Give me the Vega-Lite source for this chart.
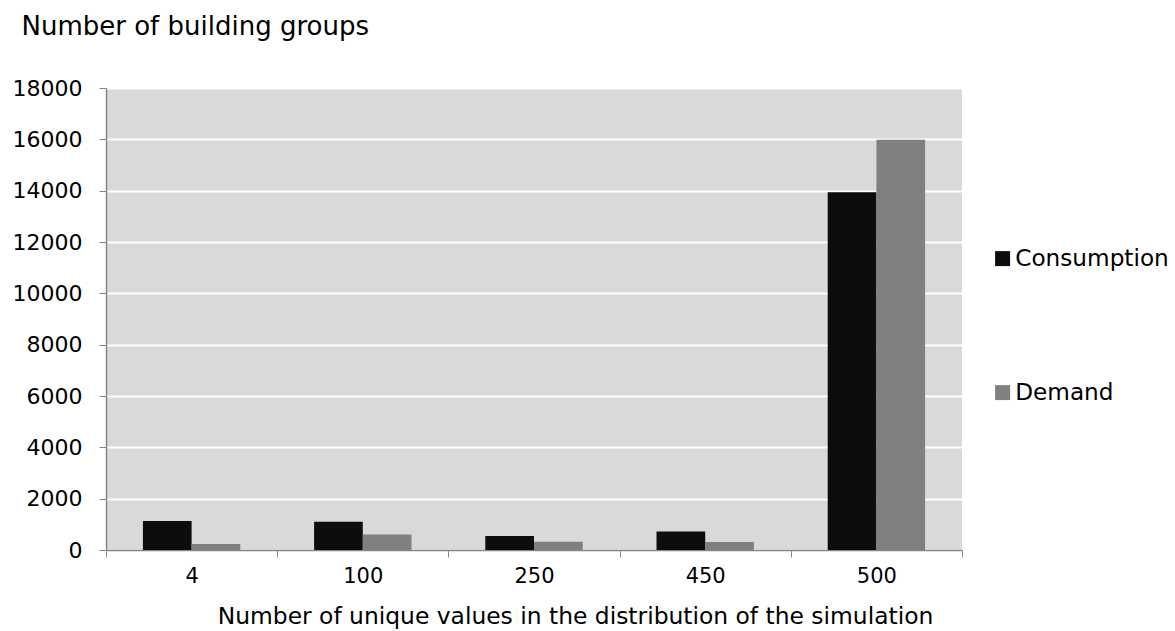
{
  "$schema": "https://vega.github.io/schema/vega-lite/v6.json",
  "autosize": "none",
  "padding": {"left": 106, "top": 88, "right": 213, "bottom": 81},
  "width": 856,
  "height": 462,
  "background": "white",
  "config": {
    "font": "DejaVu Sans",
    "view": {"fill": "#d9d9d9", "stroke": null}
  },
  "data": {
    "values": [
      {"unique": "4", "series": "Consumption", "groups": 1130},
      {"unique": "4", "series": "Demand", "groups": 235},
      {"unique": "100", "series": "Consumption", "groups": 1105},
      {"unique": "100", "series": "Demand", "groups": 600},
      {"unique": "250", "series": "Consumption", "groups": 545},
      {"unique": "250", "series": "Demand", "groups": 325},
      {"unique": "450", "series": "Consumption", "groups": 725},
      {"unique": "450", "series": "Demand", "groups": 310},
      {"unique": "500", "series": "Consumption", "groups": 13940},
      {"unique": "500", "series": "Demand", "groups": 15980}
    ]
  },
  "mark": {"type": "bar"},
  "encoding": {
    "x": {
      "field": "unique",
      "type": "nominal",
      "sort": ["4", "100", "250", "450", "500"],
      "scale": {"paddingInner": 0, "paddingOuter": 0},
      "axis": {
        "title": "Number of unique values in the distribution of the simulation",
        "titleFontSize": 23.4,
        "titleFontWeight": "normal",
        "titleColor": "black",
        "titleX": 469,
        "titleAlign": "center",
        "titlePadding": 19,
        "labelAngle": 0,
        "labelFontSize": 21,
        "labelColor": "black",
        "labelPadding": 8,
        "tickBand": "extent",
        "tickSize": 7,
        "tickColor": "#868686",
        "domainColor": "#868686",
        "domainWidth": 1.5,
        "grid": false
      }
    },
    "xOffset": {
      "field": "series",
      "type": "nominal",
      "scale": {"paddingInner": 0, "paddingOuter": 0.758}
    },
    "y": {
      "field": "groups",
      "type": "quantitative",
      "scale": {"domain": [0, 18000], "nice": false},
      "axis": {
        "title": "Number of building groups",
        "titleAngle": 0,
        "titleAlign": "left",
        "titleBaseline": "middle",
        "titleX": -85,
        "titleY": -62,
        "titleFontSize": 26,
        "titleFontWeight": "normal",
        "titleColor": "black",
        "values": [0, 2000, 4000, 6000, 8000, 10000, 12000, 14000, 16000, 18000],
        "format": "d",
        "labelFontSize": 22,
        "labelColor": "black",
        "labelPadding": 17,
        "tickSize": 7,
        "tickColor": "#868686",
        "domainColor": "#868686",
        "domainWidth": 1.5,
        "grid": true,
        "gridColor": "white",
        "gridWidth": 2
      }
    },
    "color": {
      "field": "series",
      "type": "nominal",
      "scale": {"domain": ["Consumption", "Demand"], "range": ["#0d0d0d", "#808080"]},
      "legend": {
        "title": null,
        "orient": "none",
        "legendX": 885,
        "legendY": 159,
        "padding": 0,
        "symbolType": "square",
        "symbolSize": 225,
        "symbolStrokeWidth": 0,
        "labelFontSize": 23.2,
        "labelColor": "black",
        "labelOffset": 1,
        "rowPadding": 110
      }
    }
  }
}
